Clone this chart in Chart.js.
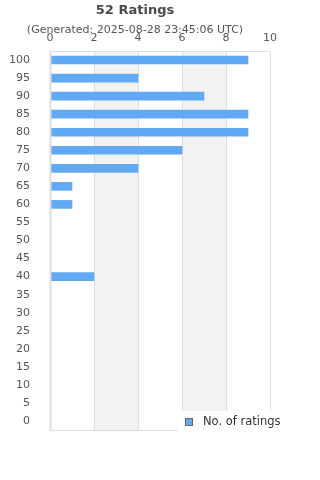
<!DOCTYPE html>
<html>
<head>
<meta charset="utf-8">
<script src="https://cdn.jsdelivr.net/npm/chart.js@4"></script>
<style>
  html, body { margin: 0; padding: 0; background: #fff; }
  #wrap { width: 320px; height: 480px; }
</style>
</head>
<body>
<div id="wrap"><canvas id="chart" width="320" height="480"></canvas></div>
<script>
// rating buckets, top to bottom
var ratingLabels = ['100','95','90','85','80','75','70','65','60','55','50','45','40','35','30','25','20','15','10','5','0'];
var ratingCounts = [9,4,7,9,9,6,4,1,1,0,0,0,2,0,0,0,0,0,0,0,0];
var xTicks = [0,2,4,6,8,10];
var barColor = '#62a9f4';

// grey bands behind every other column + frame round the plot
var bandsPlugin = {
  id: 'bands',
  beforeDatasetsDraw: function(chart) {
    var ctx = chart.ctx, a = chart.chartArea, xs = chart.scales.x;
    ctx.save();
    ctx.fillStyle = '#f2f2f2';
    for (var i = 1; i < xTicks.length - 1; i += 2) {
      var x1 = xs.getPixelForValue(xTicks[i]);
      var x2 = xs.getPixelForValue(xTicks[i + 1]);
      ctx.fillRect(x1, a.top, x2 - x1, a.bottom - a.top);
    }
    ctx.strokeStyle = '#dddddd';
    ctx.lineWidth = 1;
    for (var j = 0; j < xTicks.length; j++) {
      var px = Math.round(xs.getPixelForValue(xTicks[j])) + 0.5;
      ctx.beginPath(); ctx.moveTo(px, a.top); ctx.lineTo(px, a.bottom); ctx.stroke();
    }
    ctx.strokeRect(Math.round(a.left) + 0.5, Math.round(a.top) + 0.5, Math.round(a.right - a.left), Math.round(a.bottom - a.top));
    ctx.restore();
  },
  afterDatasetsDraw: function(chart) {
    // left frame line on top so zero bars leave no sliver
    var ctx = chart.ctx, a = chart.chartArea;
    var px = Math.round(a.left) + 0.5;
    ctx.save();
    ctx.strokeStyle = '#dddddd';
    ctx.lineWidth = 2;
    ctx.beginPath(); ctx.moveTo(px, a.top); ctx.lineTo(px, a.bottom); ctx.stroke();
    ctx.restore();
  }
};

// legend box sits over the bottom right corner of the plot
var legendPlugin = {
  id: 'cornerLegend',
  afterDraw: function(chart) {
    var ctx = chart.ctx, a = chart.chartArea;
    var bx = 178, by = a.bottom - 19;
    ctx.save();
    ctx.fillStyle = '#ffffff';
    ctx.fillRect(bx, by, 106, 22);
    ctx.fillStyle = barColor;
    ctx.fillRect(185.5, by + 7.5, 7, 7);
    ctx.strokeStyle = '#666';
    ctx.lineWidth = 1;
    ctx.strokeRect(185.5, by + 7.5, 7, 7);
    ctx.fillStyle = '#333';
    ctx.font = '11.5px "DejaVu Sans"';
    ctx.textBaseline = 'middle';
    ctx.fillText('No. of ratings', 203, by + 11.5);
    ctx.restore();
  }
};

new Chart(document.getElementById('chart'), {
  type: 'bar',
  data: {
    labels: ratingLabels,
    datasets: [{
      label: 'No. of ratings',
      data: ratingCounts,
      backgroundColor: barColor,
      borderWidth: 0,
      barThickness: 8
    }]
  },
  options: {
    indexAxis: 'y',
    responsive: false,
    animation: false,
    devicePixelRatio: 1,
    layout: { padding: { left: 0, right: 50, top: 3, bottom: 50 } },
    plugins: {
      legend: { display: false },
      tooltip: { enabled: false },
      title: {
        display: true,
        text: '52 Ratings',
        color: '#4a4a4a',
        font: { family: 'DejaVu Sans', size: 13, weight: 'bold' },
        padding: { top: 0, bottom: 5 }
      },
      subtitle: {
        display: true,
        text: '(Generated: 2025-08-28 23:45:06 UTC)',
        color: '#555',
        font: { family: 'DejaVu Sans', size: 11 },
        padding: { top: 0, bottom: -11 }
      }
    },
    scales: {
      x: {
        position: 'top',
        min: 0,
        max: 10,
        afterBuildTicks: function(s) { s.ticks = xTicks.map(function(v) { return { value: v }; }); },
        grid: { display: false, drawTicks: false, tickLength: 0 },
        border: { display: false },
        ticks: { color: '#555', font: { family: 'DejaVu Sans', size: 11 }, padding: 6 }
      },
      y: {
        grid: { display: false },
        border: { display: false },
        afterFit: function(s) { s.width = 50; },
        ticks: { color: '#555', font: { family: 'DejaVu Sans', size: 11 }, padding: 12, autoSkip: false }
      }
    }
  },
  plugins: [bandsPlugin, legendPlugin]
});
</script>
</body>
</html>
